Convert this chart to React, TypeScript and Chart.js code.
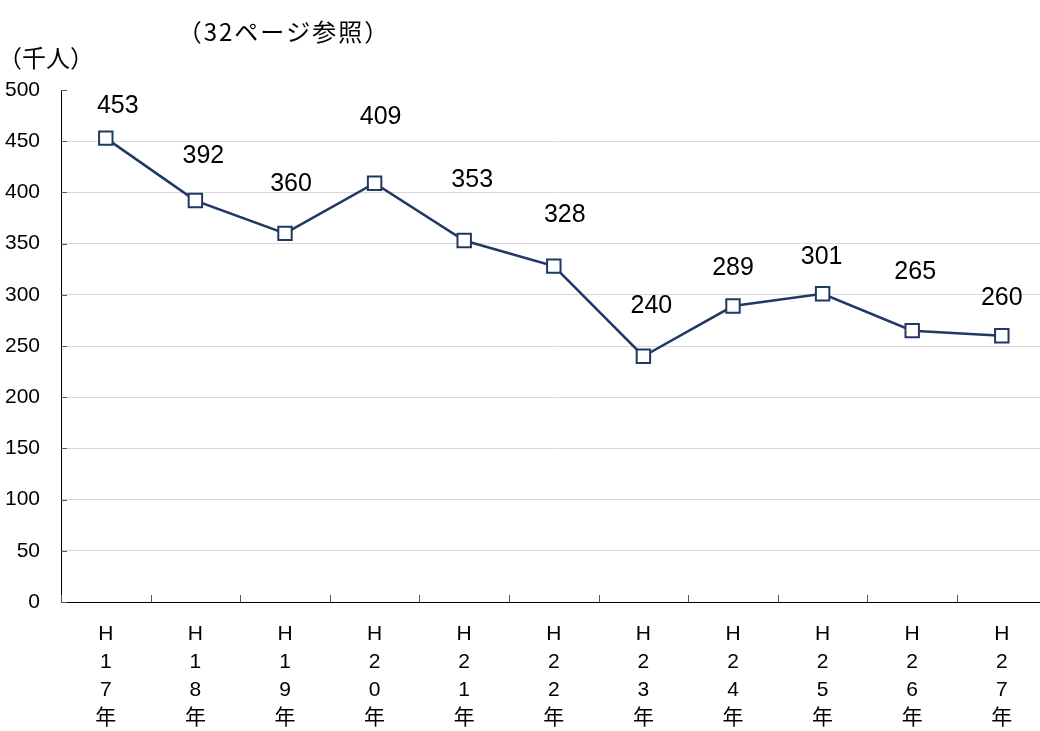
import React, { useEffect, useRef } from "react";
import { Chart, registerables } from "chart.js";

Chart.register(...registerables);

const categories = ["H17年", "H18年", "H19年", "H20年", "H21年", "H22年", "H23年", "H24年", "H25年", "H26年", "H27年"];
const values = [453, 392, 360, 409, 353, 328, 240, 289, 301, 265, 260];
const yMin = 0;
const yMax = 500;
const yStep = 50;
const unitLabel = "（千人）";
const noteLabel = "（32ページ参照）";
// label nudges (px) so value labels sit like the reference
const labelDx = [12, 8, 6, 6, 8, 11, 8, 0, -1, 3, 0];
const labelDy = [32, 44, 49, 66, 60, 51, 50, 38, 37, 59, 38];

const NUM_FONT = "'Liberation Sans', 'Noto Sans CJK JP', sans-serif";
const JP_FONT = "'Noto Sans CJK JP', 'Liberation Sans', sans-serif";

export default function App() {
  const ref = useRef<HTMLCanvasElement | null>(null);

  useEffect(() => {
    if (!ref.current) return;

    const decor = {
      id: "decor",
      afterDatasetsDraw(chart: any) {
        const { ctx, chartArea, scales } = chart;
        const xs = scales.x;
        const ys = scales.y;
        ctx.save();
        // inward ticks
        ctx.strokeStyle = "#595959";
        ctx.lineWidth = 1;
        for (let v = yMin; v <= yMax; v += yStep) {
          const y = Math.round(ys.getPixelForValue(v)) + 0.5;
          ctx.beginPath();
          ctx.moveTo(chartArea.left, y);
          ctx.lineTo(chartArea.left + 6, y);
          ctx.stroke();
        }
        const half = (xs.getPixelForValue(1) - xs.getPixelForValue(0)) / 2;
        for (let i = 0; i <= categories.length; i++) {
          const x = Math.round(xs.getPixelForValue(i) - half) + 0.5;
          ctx.beginPath();
          ctx.moveTo(x, chartArea.bottom);
          ctx.lineTo(x, chartArea.bottom - 7);
          ctx.stroke();
        }
        // value labels
        const meta = chart.getDatasetMeta(0);
        ctx.fillStyle = "#000";
        ctx.font = `25px ${NUM_FONT}`;
        ctx.textAlign = "center";
        ctx.textBaseline = "middle";
        meta.data.forEach((pt: any, i: number) => {
          ctx.fillText(String(values[i]), pt.x + labelDx[i], pt.y - labelDy[i]);
        });
        // texts
        ctx.font = `24px ${JP_FONT}`;
        (ctx as any).letterSpacing = "2px";
        ctx.fillText(noteLabel, 284, 32);
        (ctx as any).letterSpacing = "0px";
        ctx.font = `24px ${JP_FONT}`;
        ctx.fillText(unitLabel, 46, 58);
        ctx.restore();
      },
    };

    const chart = new Chart(ref.current, {
      type: "line",
      data: {
        labels: categories.map((c) => c.split("")),
        datasets: [
          {
            data: values,
            borderColor: "#1F3864",
            borderWidth: 2.5,
            pointStyle: "rect",
            pointRadius: 9.5,
            pointHoverRadius: 9.5,
            pointBackgroundColor: "#ffffff",
            pointBorderColor: "#1F3864",
            pointBorderWidth: 2,
            tension: 0,
            fill: false,
          },
        ],
      },
      options: {
        responsive: false,
        animation: false,
        layout: { autoPadding: false, padding: { top: 90, right: 1.4, left: 0, bottom: 0 } },
        plugins: {
          legend: { display: false },
          tooltip: { enabled: false },
          title: { display: false },
        },
        scales: {
          x: {
            offset: true,
            grid: { display: false, drawTicks: false, offset: true },
            border: { display: true, color: "#000", width: 1 },
            ticks: {
              color: "#000",
              font: { family: NUM_FONT, size: 21, lineHeight: "28px" },
              padding: 18,
              maxRotation: 0,
              autoSkip: false,
            },
            afterFit(scale: any) {
              scale.height = 129;
            },
          },
          y: {
            min: yMin,
            max: yMax,
            grid: {
              drawTicks: false,
              color: (c: any) =>
                c.tick && (c.tick.value === yMin || c.tick.value === yMax) ? "rgba(0,0,0,0)" : "#d9d9d9",
              lineWidth: 1,
            },
            border: { display: true, color: "#000", width: 1 },
            ticks: {
              stepSize: yStep,
              color: "#000",
              font: { family: NUM_FONT, size: 21 },
              padding: 21,
            },
            afterFit(scale: any) {
              scale.width = 61;
            },
          },
        },
      },
      plugins: [decor],
    });

    return () => chart.destroy();
  }, []);

  return (
    <div style={{ position: "absolute", left: 0, top: 0, width: 1040, height: 731, overflow: "hidden", background: "#fff" }}>
      <canvas ref={ref} width={1048} height={731} style={{ display: "block" }} />
    </div>
  );
}
